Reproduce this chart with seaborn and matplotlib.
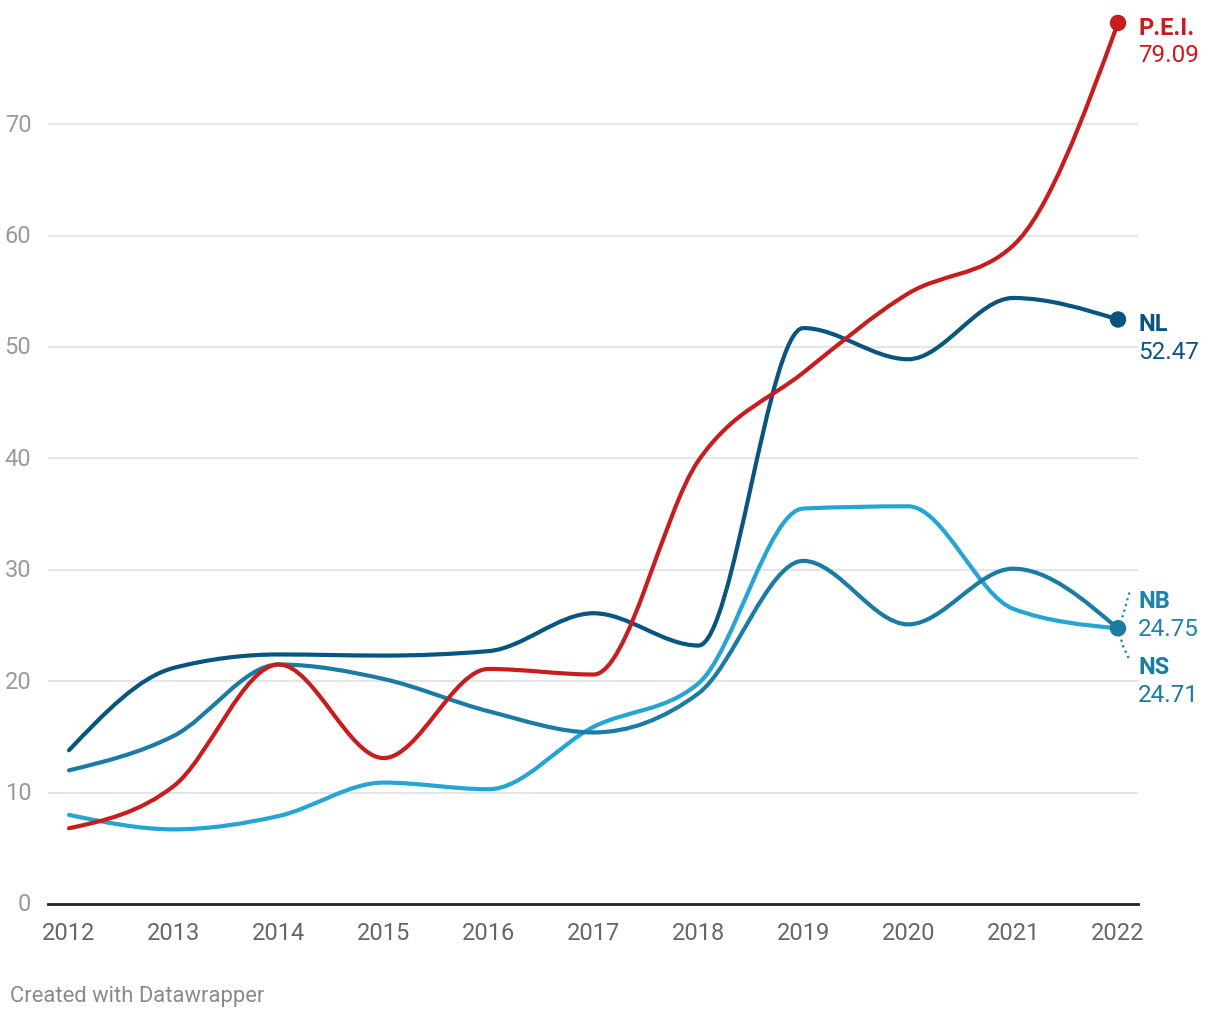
import numpy as np
import pandas as pd
import matplotlib
matplotlib.use("Agg")
import matplotlib.pyplot as plt
from matplotlib.path import Path
from matplotlib.patches import PathPatch
import seaborn as sns

years = [2012, 2013, 2014, 2015, 2016, 2017, 2018, 2019, 2020, 2021, 2022]
pei = [6.8, 10.6, 21.5, 13.1, 21.1, 20.6, 39.8, 47.7, 54.8, 59.1, 79.09]
nl = [13.8, 21.2, 22.4, 22.3, 22.7, 26.1, 23.2, 51.7, 48.9, 54.4, 52.47]
ns = [12.0, 15.1, 21.5, 20.2, 17.3, 15.4, 18.9, 30.8, 25.1, 30.1, 24.71]
nb = [8.0, 6.7, 7.9, 10.9, 10.3, 15.9, 19.8, 35.5, 35.7, 26.5, 24.75]

colors = {"P.E.I.": "#c71e1d", "NL": "#09557f", "NS": "#1a7ca4", "NB": "#24a5d3"}
label_colors = {"P.E.I.": "#c71e1d", "NL": "#09557f", "NS": "#1a7ca4", "NB": "#1b84ae"}


def monotone_path(x, y):
    # same idea as d3.curveMonotoneX: one cubic bezier per segment
    x = np.asarray(x, float)
    y = np.asarray(y, float)
    n = len(x)
    t = np.zeros(n)
    for i in range(1, n - 1):
        h0 = x[i] - x[i - 1]
        h1 = x[i + 1] - x[i]
        s0 = (y[i] - y[i - 1]) / h0
        s1 = (y[i + 1] - y[i]) / h1
        p = (s0 * h1 + s1 * h0) / (h0 + h1)
        t[i] = (np.sign(s0) + np.sign(s1)) * min(abs(s0), abs(s1), 0.5 * abs(p))
    t[0] = (3 * (y[1] - y[0]) / (x[1] - x[0]) - t[1]) / 2
    t[-1] = (3 * (y[-1] - y[-2]) / (x[-1] - x[-2]) - t[-2]) / 2
    verts = [(x[0], y[0])]
    codes = [Path.MOVETO]
    for i in range(n - 1):
        dx = (x[i + 1] - x[i]) / 3
        verts += [(x[i] + dx, y[i] + dx * t[i]),
                  (x[i + 1] - dx, y[i + 1] - dx * t[i + 1]),
                  (x[i + 1], y[i + 1])]
        codes += [Path.CURVE4] * 3
    return Path(verts, codes)


sns.set_theme(style="white")
plt.rcParams["font.family"] = ["Roboto", "DejaVu Sans"]

fig = plt.figure(figsize=(12.2, 10.2), dpi=100)
ax = fig.add_axes([48 / 1220, 115 / 1020, 1090 / 1220, 891.2 / 1020])

series = {"NB": nb, "NS": ns, "NL": nl, "P.E.I.": pei}
for name, vals in series.items():
    patch = PathPatch(monotone_path(years, vals), facecolor="none",
                      edgecolor=colors[name], lw=3, capstyle="round",
                      joinstyle="round", zorder=3)
    ax.add_patch(patch)

ends = pd.DataFrame({
    "year": [years[-1]] * 3,
    "value": [pei[-1], nl[-1], nb[-1]],
    "name": ["P.E.I.", "NL", "NS"],
})
sns.scatterplot(data=ends, x="year", y="value", hue="name",
                palette={"P.E.I.": colors["P.E.I."], "NL": colors["NL"], "NS": colors["NS"]},
                s=140, edgecolor="none", legend=False, zorder=4, ax=ax)

ax.set_xlim(2012 - 21 / 104.9, 2022 + 20 / 104.9)
ax.set_ylim(0, 80)
ax.set_yticks(range(0, 80, 10))
ax.set_xticks(years)
ax.set_xlabel("")
ax.set_ylabel("")
ax.grid(axis="y", color="#e0e0e0", lw=1.2)
ax.grid(axis="x", visible=False)
for s in ["top", "right", "left"]:
    ax.spines[s].set_visible(False)
ax.spines["bottom"].set_color("#222222")
ax.spines["bottom"].set_linewidth(2)
ax.tick_params(axis="y", length=0, pad=12, labelsize=17, labelcolor="#9a9a9a")
ax.tick_params(axis="x", length=0, pad=12, labelsize=17, labelcolor="#666666")
for lab in ax.get_yticklabels():
    lab.set_verticalalignment("center")

# direct labels at the line ends
lx = 2022 + 20 / 104.9
labels = [("P.E.I.", pei[-1], 78.7, 76.3),
          ("NL", nl[-1], 52.15, 49.6),
          ("NB", nb[-1], 27.2, 24.7),
          ("NS", ns[-1], 21.3, 18.8)]
for name, v, y1, y2 in labels:
    c = label_colors[name]
    ax.text(lx, y1, name, color=c, fontsize=17, fontweight="bold",
            va="center", ha="left", clip_on=False)
    ax.text(lx, y2, f"{v:.2f}", color=c, fontsize=17.5,
            va="center", ha="left", clip_on=False)

# dotted leaders for the overlapping NB / NS labels
ax.plot([2022, 2022.05, 2022.11], [24.75, 26.0, 28.0], ls=":", color=label_colors["NB"],
        lw=1.6, clip_on=False, zorder=2)
ax.plot([2022, 2022.05, 2022.11], [24.75, 23.1, 21.9], ls=":", color=label_colors["NS"],
        lw=1.6, clip_on=False, zorder=2)

fig.text(10 / 1220, 1 - 997 / 1020, "Created with Datawrapper", fontsize=15.8,
         color="#8a8a8a", va="center", ha="left")

fig.savefig("out.png", dpi=100)
